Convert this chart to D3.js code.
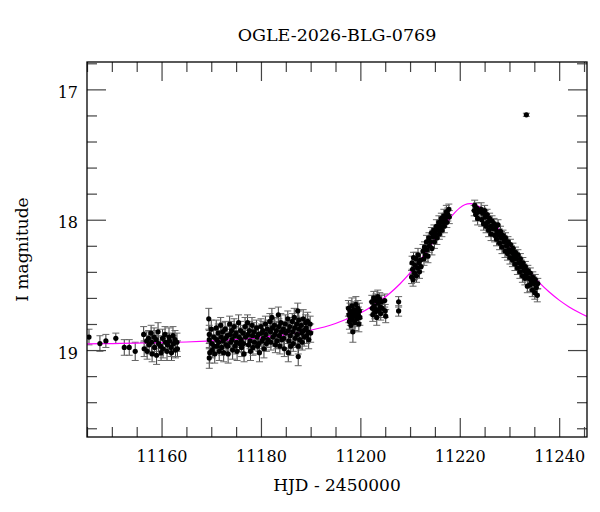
<!DOCTYPE html>
<html>
<head>
<meta charset="utf-8">
<script src="https://cdn.jsdelivr.net/npm/d3@7"></script>
<style>
  body { margin: 0; background: #fff; }
  text { font-family: "DejaVu Serif", serif; fill: #000; }
</style>
</head>
<body>
<div id="chart"></div>
<script>
// OGLE light curve: [HJD-2450000, I mag, error]
var title = "OGLE-2026-BLG-0769";
var xLabel = "HJD - 2450000";
var yLabel = "I magnitude";
var xMajor = [11160, 11180, 11200, 11220, 11240];
var yMajor = [17, 18, 19];

var earlyPts = [
  [11145.4, 18.90, 0.06], [11147.6, 18.95, 0.06], [11148.8, 18.93, 0.05],
  [11150.8, 18.91, 0.04], [11152.5, 18.98, 0.06], [11153.5, 18.98, 0.06],
  [11154.7, 19.01, 0.07]
];

var seasonB = [
  [11156.4, 18.88, 0.06], [11156.5, 18.99, 0.06], [11157.0, 18.93, 0.07], [11157.1, 19.01, 0.06],
  [11157.4, 18.91, 0.06], [11157.5, 18.96, 0.07], [11157.9, 18.87, 0.06], [11158.0, 18.94, 0.07],
  [11158.1, 19.03, 0.06], [11158.5, 18.90, 0.07], [11158.6, 18.98, 0.06], [11158.9, 18.92, 0.07],
  [11159.0, 19.04, 0.07], [11159.3, 18.86, 0.07], [11159.4, 18.95, 0.06], [11159.8, 18.97, 0.07],
  [11159.9, 19.02, 0.06], [11160.2, 18.91, 0.07], [11160.3, 18.99, 0.07], [11160.7, 18.88, 0.06],
  [11160.8, 18.94, 0.07], [11161.1, 19.01, 0.07], [11161.2, 18.96, 0.06], [11161.5, 18.90, 0.07],
  [11161.6, 18.93, 0.06], [11161.9, 18.98, 0.07], [11162.0, 19.02, 0.06], [11162.3, 18.89, 0.07],
  [11162.4, 18.95, 0.06], [11162.7, 18.92, 0.07], [11162.8, 19.00, 0.06], [11163.1, 18.94, 0.07],
  [11163.2, 18.99, 0.06]
];

var seasonC = [
  [11169.5, 18.76, 0.08], [11169.6, 18.88, 0.07], [11169.6, 18.92, 0.07], [11169.7, 19.02, 0.08], [11169.6, 19.06, 0.08],
  [11170.0, 18.84, 0.07], [11170.1, 18.95, 0.07], [11170.2, 19.00, 0.06],
  [11170.5, 18.90, 0.07], [11170.6, 18.97, 0.06], [11170.7, 19.03, 0.07],
  [11171.0, 18.83, 0.06], [11171.1, 18.92, 0.07], [11171.2, 18.97, 0.06],
  [11171.4, 18.87, 0.07], [11171.5, 18.94, 0.06], [11171.6, 19.01, 0.07],
  [11171.9, 18.81, 0.06], [11172.0, 18.90, 0.07], [11172.1, 18.98, 0.06],
  [11172.3, 18.86, 0.07], [11172.4, 18.93, 0.06], [11172.5, 19.02, 0.07],
  [11172.8, 18.84, 0.06], [11172.9, 18.91, 0.07], [11173.0, 18.96, 0.06],
  [11173.2, 18.89, 0.07], [11173.3, 18.97, 0.06], [11173.4, 19.03, 0.07],
  [11173.7, 18.80, 0.06], [11173.8, 18.88, 0.07], [11173.9, 18.94, 0.06],
  [11174.1, 18.85, 0.07], [11174.2, 18.92, 0.06], [11174.3, 19.00, 0.07],
  [11174.6, 18.82, 0.06], [11174.7, 18.89, 0.07], [11174.8, 18.97, 0.06],
  [11175.0, 18.87, 0.07], [11175.1, 18.94, 0.06], [11175.2, 19.01, 0.07],
  [11175.5, 18.79, 0.06], [11175.6, 18.90, 0.07], [11175.7, 18.95, 0.06],
  [11175.9, 18.85, 0.07], [11176.0, 18.92, 0.06], [11176.1, 18.98, 0.07],
  [11176.4, 18.87, 0.06], [11176.5, 18.95, 0.07], [11176.6, 19.03, 0.06],
  [11176.8, 18.82, 0.07], [11176.9, 18.90, 0.06],
  [11177.3, 18.79, 0.06], [11177.4, 18.88, 0.07], [11177.5, 18.96, 0.06],
  [11177.7, 18.85, 0.07], [11177.8, 18.93, 0.06], [11177.9, 19.01, 0.07],
  [11178.2, 18.81, 0.06], [11178.3, 18.89, 0.07], [11178.4, 18.98, 0.06],
  [11178.6, 18.86, 0.07], [11178.7, 18.94, 0.06],
  [11179.1, 18.83, 0.06], [11179.2, 18.90, 0.07], [11179.3, 18.97, 0.06],
  [11179.5, 18.88, 0.07], [11179.6, 18.95, 0.06], [11179.7, 19.02, 0.07],
  [11180.0, 18.82, 0.06], [11180.1, 18.87, 0.07], [11180.2, 18.93, 0.06],
  [11180.4, 18.85, 0.07], [11180.5, 18.91, 0.06], [11180.6, 18.99, 0.07],
  [11180.9, 18.80, 0.06], [11181.0, 18.88, 0.07], [11181.1, 18.95, 0.06],
  [11181.3, 18.84, 0.07], [11181.4, 18.92, 0.06],
  [11181.8, 18.78, 0.06], [11181.9, 18.86, 0.07], [11182.0, 18.94, 0.06],
  [11182.2, 18.75, 0.07], [11182.3, 18.83, 0.06], [11182.4, 18.90, 0.07],
  [11182.7, 18.81, 0.06], [11182.8, 18.88, 0.07], [11182.9, 18.96, 0.06],
  [11183.1, 18.85, 0.07], [11183.2, 18.93, 0.06], [11183.5, 18.73, 0.06],
  [11183.6, 18.82, 0.06], [11183.7, 18.89, 0.07], [11183.8, 18.97, 0.06],
  [11184.0, 18.79, 0.07], [11184.1, 18.86, 0.06], [11184.2, 18.92, 0.07],
  [11184.5, 18.84, 0.06], [11184.6, 18.91, 0.07], [11184.7, 18.99, 0.06],
  [11184.9, 18.80, 0.07], [11185.0, 18.87, 0.06],
  [11185.4, 18.76, 0.06], [11185.5, 18.85, 0.07], [11185.5, 19.02, 0.07], [11185.6, 18.93, 0.06],
  [11185.8, 18.82, 0.07], [11185.9, 18.89, 0.06], [11186.0, 18.97, 0.07],
  [11186.3, 18.78, 0.06], [11186.4, 18.86, 0.07], [11186.5, 18.95, 0.06],
  [11186.7, 18.75, 0.07], [11186.8, 18.83, 0.06], [11186.9, 18.91, 0.07],
  [11187.2, 18.80, 0.06], [11187.3, 18.88, 0.07], [11187.4, 18.70, 0.06], [11187.5, 18.97, 0.06],
  [11187.5, 19.05, 0.07], [11187.6, 18.77, 0.07], [11187.7, 18.84, 0.06], [11187.8, 18.92, 0.07],
  [11188.1, 18.81, 0.06], [11188.2, 18.87, 0.07], [11188.3, 18.94, 0.06],
  [11188.5, 18.76, 0.07], [11188.6, 18.85, 0.06], [11188.7, 18.90, 0.07],
  [11189.0, 18.79, 0.06], [11189.1, 18.83, 0.07], [11189.2, 18.89, 0.06],
  [11189.4, 18.78, 0.07], [11189.5, 18.86, 0.06], [11189.6, 18.92, 0.07],
  [11189.9, 18.80, 0.06], [11190.0, 18.87, 0.07]
];

var seasonD = [
  [11197.6, 18.68, 0.06], [11197.7, 18.73, 0.06], [11197.8, 18.78, 0.06],
  [11197.9, 18.70, 0.06], [11198.0, 18.75, 0.06], [11198.1, 18.81, 0.06],
  [11198.3, 18.66, 0.06], [11198.4, 18.72, 0.06], [11198.4, 18.77, 0.06], [11198.5, 18.86, 0.08],
  [11198.7, 18.69, 0.06], [11198.8, 18.74, 0.06], [11198.9, 18.79, 0.06],
  [11199.1, 18.65, 0.06], [11199.2, 18.71, 0.06], [11199.3, 18.76, 0.06],
  [11199.5, 18.68, 0.06], [11199.6, 18.73, 0.06], [11199.7, 18.80, 0.06],
  [11199.8, 18.70, 0.06], [11199.9, 18.75, 0.06]
];

var seasonE = [
  [11202.3, 18.63, 0.05], [11202.4, 18.68, 0.05], [11202.5, 18.73, 0.05],
  [11202.7, 18.60, 0.05], [11202.8, 18.66, 0.05], [11202.9, 18.71, 0.05],
  [11203.1, 18.62, 0.05], [11203.2, 18.69, 0.05], [11203.3, 18.75, 0.06],
  [11203.5, 18.59, 0.05], [11203.6, 18.64, 0.05], [11203.7, 18.70, 0.05],
  [11203.9, 18.61, 0.05], [11204.0, 18.67, 0.05], [11204.1, 18.72, 0.05],
  [11204.3, 18.63, 0.05], [11204.4, 18.68, 0.05],
  [11204.9, 18.62, 0.05], [11205.0, 18.70, 0.05], [11205.1, 18.74, 0.05],
  [11207.7, 18.63, 0.04], [11207.7, 18.70, 0.04]
];

var risePts = [
  [11210.3, 18.44, 0.05], [11210.4, 18.33, 0.05], [11210.5, 18.38, 0.04], [11210.6, 18.46, 0.05],
  [11210.7, 18.29, 0.04], [11210.9, 18.41, 0.05], [11211.0, 18.35, 0.04], [11211.2, 18.30, 0.05],
  [11211.3, 18.43, 0.05], [11211.5, 18.37, 0.04], [11211.6, 18.27, 0.05], [11211.8, 18.33, 0.04],
  [11211.9, 18.40, 0.05], [11212.1, 18.31, 0.05], [11212.2, 18.36, 0.04],
  [11212.6, 18.24, 0.05], [11212.8, 18.30, 0.05], [11212.9, 18.21, 0.04], [11213.1, 18.27, 0.05],
  [11213.3, 18.17, 0.05], [11213.4, 18.23, 0.04], [11213.6, 18.28, 0.05], [11213.8, 18.14, 0.04],
  [11213.9, 18.20, 0.05], [11214.1, 18.17, 0.05], [11214.3, 18.10, 0.04], [11214.4, 18.22, 0.05],
  [11214.6, 18.13, 0.05], [11214.8, 18.08, 0.04], [11214.9, 18.17, 0.05], [11215.1, 18.11, 0.04],
  [11215.3, 18.05, 0.05], [11215.4, 18.14, 0.05], [11215.6, 18.08, 0.04], [11215.8, 18.02, 0.05],
  [11215.9, 18.11, 0.04], [11216.1, 18.05, 0.05], [11216.3, 17.99, 0.04], [11216.4, 18.08, 0.05],
  [11216.6, 18.02, 0.04], [11216.8, 17.97, 0.05], [11216.9, 18.05, 0.05], [11217.1, 17.99, 0.04],
  [11217.3, 17.94, 0.05], [11217.4, 18.02, 0.04], [11217.6, 17.96, 0.05], [11217.8, 17.92, 0.04],
  [11217.9, 17.98, 0.05]
];

var fallPts = [
  [11222.9, 17.93, 0.04], [11223.0, 17.89, 0.04], [11223.2, 17.96, 0.05], [11223.4, 17.91, 0.04],
  [11223.6, 17.99, 0.05], [11223.8, 17.94, 0.04], [11224.3, 17.92, 0.05], [11224.4, 18.00, 0.05],
  [11224.6, 17.95, 0.04], [11224.8, 18.03, 0.05], [11225.0, 17.93, 0.04], [11225.1, 17.98, 0.05],
  [11225.3, 18.05, 0.05], [11225.5, 17.96, 0.04], [11225.6, 18.02, 0.05], [11225.8, 18.08, 0.05],
  [11226.0, 17.99, 0.04], [11226.2, 18.05, 0.05], [11226.3, 18.11, 0.05], [11226.5, 18.01, 0.04],
  [11226.7, 18.07, 0.05], [11226.9, 18.03, 0.04], [11227.0, 18.12, 0.05], [11227.2, 18.06, 0.04],
  [11227.4, 18.15, 0.05], [11227.5, 18.09, 0.05], [11227.7, 18.04, 0.04], [11227.9, 18.12, 0.05],
  [11228.0, 18.18, 0.05], [11228.2, 18.09, 0.04], [11228.4, 18.14, 0.05], [11228.5, 18.21, 0.05],
  [11228.7, 18.12, 0.04], [11228.9, 18.17, 0.05], [11229.1, 18.24, 0.05], [11229.2, 18.14, 0.04],
  [11229.4, 18.20, 0.05], [11229.6, 18.26, 0.05], [11229.7, 18.17, 0.04], [11229.9, 18.23, 0.05],
  [11230.1, 18.29, 0.05], [11230.2, 18.19, 0.04], [11230.4, 18.25, 0.05], [11230.6, 18.31, 0.05],
  [11230.7, 18.22, 0.04], [11230.9, 18.28, 0.05], [11231.1, 18.34, 0.05], [11231.2, 18.25, 0.04],
  [11231.4, 18.30, 0.05], [11231.6, 18.37, 0.05], [11231.7, 18.27, 0.04], [11231.9, 18.33, 0.05],
  [11232.1, 18.40, 0.05], [11232.2, 18.30, 0.04], [11232.4, 18.36, 0.05], [11232.6, 18.43, 0.05],
  [11232.7, 18.33, 0.04], [11232.9, 18.39, 0.05], [11233.1, 18.45, 0.05], [11233.2, 18.36, 0.04],
  [11233.4, 18.42, 0.05], [11233.6, 18.51, 0.05], [11233.7, 18.39, 0.04], [11233.9, 18.45, 0.05],
  [11234.1, 18.50, 0.05], [11234.2, 18.41, 0.04], [11234.4, 18.47, 0.05], [11234.6, 18.54, 0.05],
  [11234.7, 18.44, 0.04], [11234.9, 18.49, 0.05], [11235.1, 18.56, 0.05], [11235.2, 18.46, 0.04],
  [11235.4, 18.52, 0.05], [11235.6, 18.58, 0.05], [11235.7, 18.49, 0.04]
];

var outlierPts = [
  [11233.4, 17.195, 0.012]
];

// fitted model curve
var modelHjd = [11145, 11150, 11155, 11160, 11165, 11170, 11175, 11180, 11185, 11190,
  11195, 11200, 11202, 11204, 11206, 11208, 11210, 11212, 11214, 11216, 11218,
  11220, 11221, 11222.1, 11223, 11224, 11226, 11228, 11230, 11232, 11234, 11236,
  11238, 11240, 11242, 11244, 11245.6];
var modelMag = [18.952, 18.950, 18.947, 18.943, 18.938, 18.930, 18.920, 18.904, 18.882, 18.848,
  18.796, 18.716, 18.673, 18.622, 18.562, 18.491, 18.408, 18.313, 18.207, 18.095, 17.989,
  17.909, 17.885, 17.877, 17.882, 17.903, 17.980, 18.084, 18.196, 18.302, 18.399, 18.483,
  18.555, 18.617, 18.669, 18.712, 18.742];

var width = 600, height = 512;
var margin = { top: 62, right: 13, bottom: 75, left: 87 };
var w = width - margin.left - margin.right;
var h = height - margin.top - margin.bottom;

var svg = d3.select("#chart")
  .append("svg")
  .attr("width", width)
  .attr("height", height);

var g = svg.append("g")
  .attr("transform", "translate(" + margin.left + "," + margin.top + ")");

var x = d3.scaleLinear().domain([11145, 11245.6]).range([0, w]);
// magnitudes: brighter is up
var y = d3.scaleLinear().domain([16.79, 19.667]).range([0, h]);

var xMinor = d3.range(11145, 11246, 5).filter(d => xMajor.indexOf(d) < 0);
var yMinor = d3.range(16.8, 19.61, 0.2).map(d => +d.toFixed(1)).filter(d => yMajor.indexOf(d) < 0);

function tickStyle(sel) {
  sel.select(".domain").remove();
  sel.selectAll("line").attr("stroke", "#444").attr("stroke-width", 1.2);
}

// major ticks with labels
g.append("g")
  .attr("transform", "translate(0," + h + ")")
  .call(d3.axisBottom(x).tickValues(xMajor).tickSize(-19).tickSizeOuter(0).tickFormat(d3.format("d")))
  .call(tickStyle)
  .call(s => s.selectAll("text").attr("y", 14).attr("dy", "0.71em")
    .style("font-family", "DejaVu Serif").style("font-size", "16px").attr("fill", "#000"));
g.append("g")
  .call(d3.axisTop(x).tickValues(xMajor).tickSize(-19).tickSizeOuter(0).tickFormat(""))
  .call(tickStyle);
g.append("g")
  .call(d3.axisLeft(y).tickValues(yMajor).tickSize(-19).tickSizeOuter(0).tickFormat(d3.format("d")))
  .call(tickStyle)
  .call(s => s.selectAll("text").attr("x", -9).attr("dy", "0.5em")
    .style("font-family", "DejaVu Serif").style("font-size", "16px").attr("fill", "#000"));
g.append("g")
  .attr("transform", "translate(" + w + ",0)")
  .call(d3.axisRight(y).tickValues(yMajor).tickSize(-19).tickSizeOuter(0).tickFormat(""))
  .call(tickStyle);

// minor ticks
g.append("g")
  .attr("transform", "translate(0," + h + ")")
  .call(d3.axisBottom(x).tickValues(xMinor).tickSize(-10).tickSizeOuter(0).tickFormat(""))
  .call(tickStyle);
g.append("g")
  .call(d3.axisTop(x).tickValues(xMinor).tickSize(-10).tickSizeOuter(0).tickFormat(""))
  .call(tickStyle);
g.append("g")
  .call(d3.axisLeft(y).tickValues(yMinor).tickSize(-10).tickSizeOuter(0).tickFormat(""))
  .call(tickStyle);
g.append("g")
  .attr("transform", "translate(" + w + ",0)")
  .call(d3.axisRight(y).tickValues(yMinor).tickSize(-10).tickSizeOuter(0).tickFormat(""))
  .call(tickStyle);

g.append("clipPath").attr("id", "clip")
  .append("rect").attr("width", w).attr("height", h);

var plot = g.append("g").attr("clip-path", "url(#clip)");

var allPts = [].concat(earlyPts, seasonB, seasonC, seasonD, seasonE, risePts, fallPts, outlierPts);

// error bars
var bars = plot.append("g")
  .attr("stroke", "#3a3a3a")
  .attr("stroke-width", 1);
bars.selectAll(".eb")
  .data(allPts)
  .enter()
  .append("line")
  .attr("x1", d => x(d[0]))
  .attr("x2", d => x(d[0]))
  .attr("y1", d => y(d[1] - d[2]))
  .attr("y2", d => y(d[1] + d[2]));
bars.selectAll(".capTop")
  .data(allPts)
  .enter()
  .append("line")
  .attr("stroke", "#666")
  .attr("x1", d => x(d[0]) - 3.5)
  .attr("x2", d => x(d[0]) + 3.5)
  .attr("y1", d => y(d[1] - d[2]))
  .attr("y2", d => y(d[1] - d[2]));
bars.selectAll(".capBot")
  .data(allPts)
  .enter()
  .append("line")
  .attr("stroke", "#666")
  .attr("x1", d => x(d[0]) - 3.5)
  .attr("x2", d => x(d[0]) + 3.5)
  .attr("y1", d => y(d[1] + d[2]))
  .attr("y2", d => y(d[1] + d[2]));

// model curve
var model = modelHjd.map((t, i) => [t, modelMag[i]]);
plot.append("path")
  .datum(model)
  .attr("fill", "none")
  .attr("stroke", "#ff00ff")
  .attr("stroke-width", 1.2)
  .attr("d", d3.line()
    .x(d => x(d[0]))
    .y(d => y(d[1]))
    .curve(d3.curveCatmullRom.alpha(0.5)));

// data points
plot.selectAll(".pt")
  .data(allPts)
  .enter()
  .append("circle")
  .attr("cx", d => x(d[0]))
  .attr("cy", d => y(d[1]))
  .attr("r", 2.6)
  .attr("fill", "#000");

// frame
g.append("rect")
  .attr("width", w)
  .attr("height", h)
  .attr("fill", "none")
  .attr("stroke", "#000")
  .attr("stroke-width", 1.3);

// titles
svg.append("text")
  .attr("x", margin.left + w / 2)
  .attr("y", 41)
  .attr("text-anchor", "middle")
  .style("font-size", "17.5px")
  .text(title);

svg.append("text")
  .attr("x", margin.left + w / 2)
  .attr("y", 491)
  .attr("text-anchor", "middle")
  .style("font-size", "17px")
  .text(xLabel);

svg.append("text")
  .attr("transform", "translate(27.5," + (margin.top + h / 2) + ") rotate(-90)")
  .attr("text-anchor", "middle")
  .style("font-size", "17px")
  .text(yLabel);
</script>
</body>
</html>
